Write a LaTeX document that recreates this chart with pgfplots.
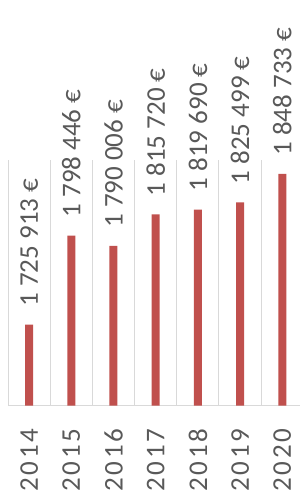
\documentclass[border=0pt]{standalone}
\usepackage{fontspec}
\setmainfont{Carlito}
\newfontfamily\yearfont[LetterSpace=10]{Carlito}
\usepackage{pgfplots}
\pgfplotsset{compat=1.18}
\definecolor{barred}{HTML}{C0504D}
\definecolor{txtgray}{HTML}{595959}
\definecolor{gridgray}{HTML}{D9D9D9}
\begin{document}
\begin{tikzpicture}
\begin{axis}[
  at={(8bp,89.3bp)}, anchor=south west,
  scale only axis, width=295.4bp, height=245.7bp,
  xmin=-0.5, xmax=6.5, ymin=1660000, ymax=1860000,
  clip=false,
  axis x line*=bottom, axis y line=none,
  x axis line style={-, draw=gridgray, line width=1bp},
  xtick={0,...,6},
  xticklabels={2014,2015,2016,2017,2018,2019,2020},
  major tick length=0pt, minor tick length=0pt,
  minor xtick={-0.5,0.5,...,6.5},
  xminorgrids, minor grid style={draw=gridgray, line width=1bp},
  ytick=\empty,
  xticklabel style={rotate=90, anchor=east, inner xsep=23bp, inner ysep=0pt, text=txtgray, font=\yearfont\fontsize{27bp}{27bp}\selectfont},
  ybar, bar width=8bp,
  point meta=explicit symbolic,
  nodes near coords,
  nodes near coords style={rotate=90, anchor=west, inner xsep=18bp, inner ysep=0pt, text=txtgray, font=\fontsize{27bp}{27bp}\selectfont},
]
\addplot[fill=barred, draw=none] coordinates {
  (0,1725913) [1 725 913 €]
  (1,1798446) [1 798 446 €]
  (2,1790006) [1 790 006 €]
  (3,1815720) [1 815 720 €]
  (4,1819690) [1 819 690 €]
  (5,1825499) [1 825 499 €]
  (6,1848733) [1 848 733 €]
};
\end{axis}
\pgfresetboundingbox
\path (0,0) rectangle (300bp,495bp);
\end{tikzpicture}
\end{document}
